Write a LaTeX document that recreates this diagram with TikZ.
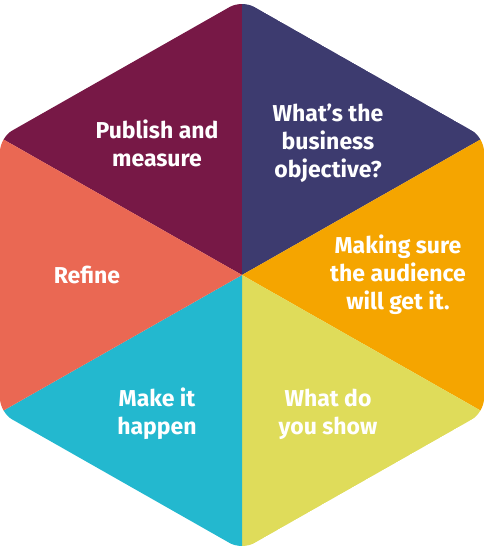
\documentclass[tikz,border=0pt]{standalone}
\usepackage{fontspec}
\setmainfont{Fira Sans}
\definecolor{cmaroon}{HTML}{771846}
\definecolor{cnavy}{HTML}{3D3B6F}
\definecolor{corange}{HTML}{F5A500}
\definecolor{cyellow}{HTML}{DFDC5A}
\definecolor{ccyan}{HTML}{23B8CF}
\definecolor{ccoral}{HTML}{EA6853}
\tikzset{
  lbl/.style={text=white, align=center, font=\fontsize{23}{28}\selectfont\bfseries, inner sep=0pt},
  seg/.style={draw=none}
}
\begin{document}
\begin{tikzpicture}[x=1pt,y=-1pt]
\useasboundingbox (0,0) rectangle (484,550);
\coordinate (C) at (242,275);
\coordinate (T) at (242,0);
\coordinate (UR) at (484,137.5);
\coordinate (LR) at (484,412.5);
\coordinate (B) at (242,550);
\coordinate (LL) at (0,412.5);
\coordinate (UL) at (0,137.5);
\begin{scope}
\clip[rounded corners=14pt] (T) -- (UR) -- (LR) -- (B) -- (LL) -- (UL) -- cycle;
\fill[cmaroon] (C) -- (UL) -- (T) -- cycle;
\fill[cnavy] (C) -- (T) -- (UR) -- cycle;
\fill[corange] (C) -- (UR) -- (LR) -- cycle;
\fill[cyellow] (C) -- (LR) -- (B) -- cycle;
\fill[ccyan] (C) -- (B) -- (LL) -- cycle;
\fill[ccoral] (C) -- (LL) -- (UL) -- cycle;
\end{scope}
\node[lbl] (publish) at (157,143) {Publish and\\measure};
\node[lbl] (objective) at (328,143) {What’s the\\business\\objective?};
\node[lbl] (audience) at (398,275) {Making sure\\the audience\\will get it.};
\node[lbl] (show) at (328,414) {What do\\you show};
\node[lbl] (happen) at (157,414) {Make it\\happen};
\node[lbl] (refine) at (87,275) {Refine};
\end{tikzpicture}
\end{document}
